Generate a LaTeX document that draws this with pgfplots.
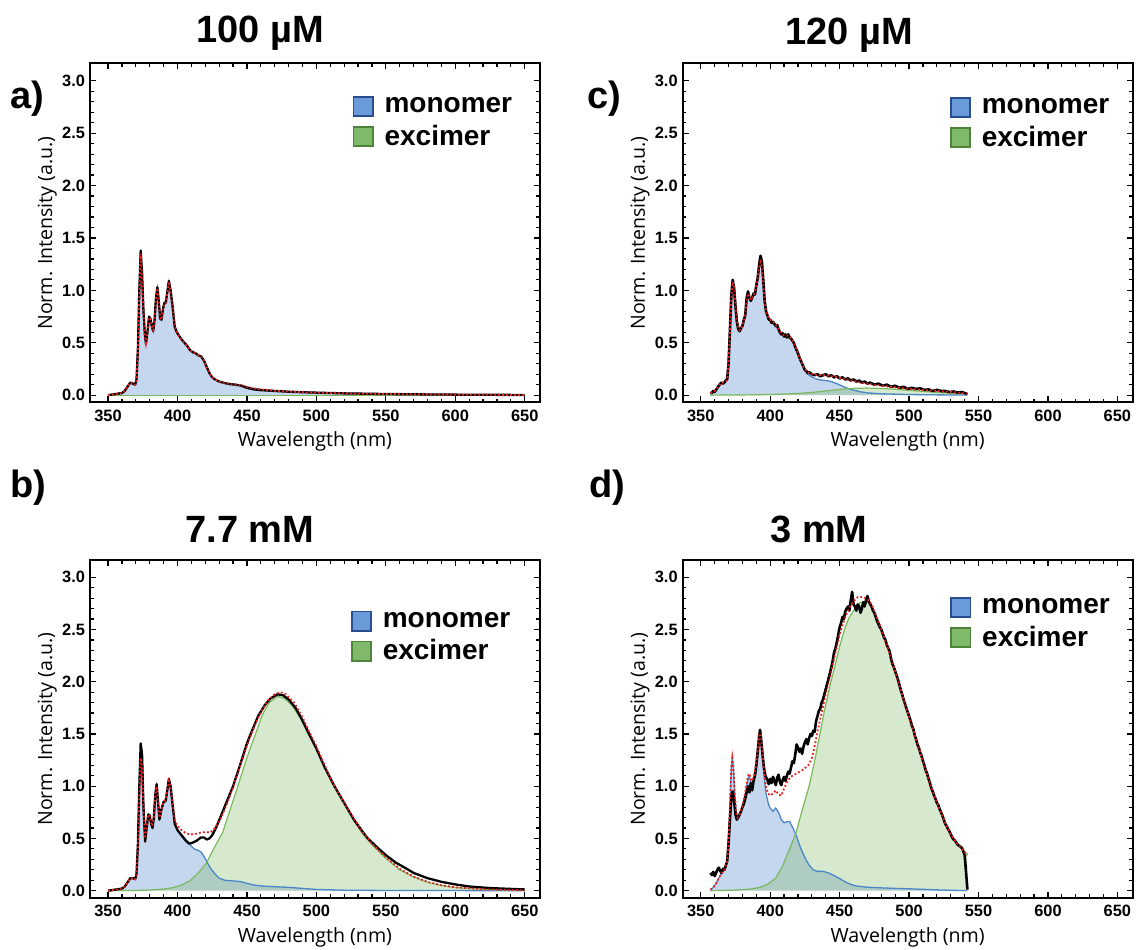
\documentclass[border=0pt]{standalone}
\usepackage{fontspec}
\setmainfont{Liberation Sans}
\newfontfamily\labfont{Open Sans}
\usepackage{pgfplots}
\usepackage{pgfplotstable}
\pgfplotsset{compat=1.18}

\definecolor{monoline}{RGB}{74,134,200}
\definecolor{monofill}{RGB}{90,140,210}
\definecolor{monobox}{RGB}{106,154,216}
\definecolor{monoedge}{RGB}{40,78,145}
\definecolor{exciline}{RGB}{122,184,92}
\definecolor{excifill}{RGB}{120,180,90}
\definecolor{excibox}{RGB}{127,186,106}
\definecolor{exciedge}{RGB}{78,132,58}
\definecolor{fitred}{RGB}{235,30,30}

% ---------- 100 uM ----------
\pgfplotstableread{
x y
350 0.00
355 0.01
360 0.02
362 0.04
364 0.08
366 0.12
368 0.11
369.5 0.10
370.5 0.15
371.5 0.45
372.5 1.00
373.5 1.38
374.5 1.16
375.5 0.80
376.5 0.58
377.3 0.49
378.5 0.62
379.5 0.75
380.5 0.73
381.5 0.66
382.5 0.61
383.5 0.72
384.5 0.93
385.5 1.03
386.5 0.90
387.5 0.73
388.5 0.72
389.5 0.82
390.5 0.88
391.5 0.88
392.5 0.97
393.8 1.09
395 1.00
396.5 0.84
398 0.65
399.5 0.60
401 0.57
403 0.53
405 0.50
407 0.47
409 0.43
411 0.41
413 0.40
415 0.38
417 0.37
419 0.33
421 0.27
423 0.21
425 0.17
427 0.15
430 0.13
434 0.115
438 0.105
442 0.10
446 0.09
450 0.07
455 0.055
460 0.048
470 0.04
480 0.033
490 0.028
500 0.024
520 0.017
550 0.011
580 0.007
610 0.004
650 0.002
}\dataA
\pgfplotstableread{
x y
350 0.00
355 0.01
360 0.02
362 0.04
364 0.08
366 0.12
368 0.11
369.5 0.10
370.5 0.14
371.5 0.40
372.5 0.95
373.5 1.35
374.5 1.15
375.5 0.80
376.5 0.58
377.3 0.50
378.5 0.62
379.5 0.74
380.5 0.73
381.5 0.66
382.5 0.62
383.5 0.72
384.5 0.92
385.5 1.02
386.5 0.90
387.5 0.74
388.5 0.72
389.5 0.82
390.5 0.88
391.5 0.88
392.5 0.96
393.8 1.08
395 1.00
396.5 0.84
398 0.66
399.5 0.60
401 0.57
403 0.53
405 0.50
407 0.47
409 0.43
411 0.41
413 0.40
415 0.38
417 0.37
419 0.33
421 0.27
423 0.21
425 0.17
427 0.15
430 0.13
434 0.115
438 0.105
442 0.10
446 0.095
450 0.08
455 0.065
460 0.055
470 0.042
480 0.034
490 0.029
500 0.024
520 0.017
550 0.011
580 0.007
610 0.004
650 0.002
}\fitA
\pgfplotstableread{
x y
350 0
650 0
}\exciA

% ---------- 7.7 mM ----------
\pgfplotstableread{
x y
350 0.00
355 0.01
360 0.02
362 0.04
364 0.08
366 0.12
368 0.12
369.5 0.11
370.5 0.16
371.5 0.45
372.5 1.00
373.5 1.41
374.5 1.30
375.5 0.80
376.7 0.47
377.8 0.60
379 0.73
380 0.72
381 0.64
382 0.60
383 0.70
384 0.92
385 1.02
386 0.85
387 0.68
388.5 0.78
390 0.85
391.5 0.86
392.5 0.95
393.8 1.07
395 1.00
396.5 0.82
398 0.64
400 0.58
403 0.53
406 0.48
408.5 0.45
411 0.46
414 0.48
417 0.51
419 0.51
421 0.49
423 0.50
425 0.53
428 0.61
432 0.74
436 0.87
440 1.00
445 1.20
450 1.41
453 1.51
458 1.67
463 1.78
467 1.84
472 1.88
476 1.87
480 1.83
485 1.75
490 1.63
494 1.52
500 1.36
506 1.18
513 1.00
520 0.84
527 0.68
533 0.57
537 0.50
545 0.40
550 0.34
557 0.27
565 0.21
570 0.17
580 0.12
590 0.085
600 0.06
610 0.04
625 0.025
650 0.012
}\dataB
\pgfplotstableread{
x y
350 0.00
355 0.01
360 0.02
362 0.04
364 0.08
366 0.12
368 0.12
369.5 0.11
370.5 0.15
371.5 0.40
372.5 0.90
373.5 1.27
374.5 1.18
375.5 0.78
376.7 0.50
377.8 0.62
379 0.73
380 0.72
381 0.65
382 0.62
383 0.72
384 0.92
385 1.00
386 0.85
387 0.70
388.5 0.78
390 0.85
391.5 0.87
392.5 0.95
393.8 1.05
395 1.00
396.5 0.84
398 0.68
400 0.62
403 0.58
406 0.55
409 0.54
412 0.54
415 0.55
418 0.56
421 0.56
424 0.56
427 0.60
430 0.66
435 0.81
440 0.99
445 1.19
450 1.39
455 1.56
460 1.71
465 1.82
470 1.88
474 1.90
478 1.88
484 1.80
490 1.66
496 1.49
500 1.38
506 1.20
513 1.00
520 0.84
527 0.69
533 0.57
540 0.45
550 0.32
560 0.21
570 0.135
580 0.085
590 0.052
600 0.032
620 0.013
650 0.004
}\fitB
\pgfplotstableread{
x y
350 0.00
355 0.01
360 0.02
362 0.04
364 0.08
366 0.12
368 0.12
369.5 0.11
370.5 0.15
371.5 0.40
372.5 0.90
373.5 1.27
374.5 1.18
375.5 0.78
376.7 0.50
377.8 0.62
379 0.73
380 0.72
381 0.65
382 0.62
383 0.72
384 0.92
385 1.00
386 0.85
387 0.70
388.5 0.78
390 0.85
391.5 0.86
392.5 0.94
393.8 1.04
395 0.98
396.5 0.80
398 0.64
400 0.57
403 0.52
406 0.47
409 0.44
412 0.40
415 0.385
417 0.37
419 0.33
421 0.28
424 0.21
427 0.16
430 0.12
434 0.10
438 0.095
442 0.092
446 0.085
450 0.07
455 0.055
460 0.045
470 0.038
480 0.032
490 0.022
500 0.012
520 0.005
550 0.002
650 0.000
}\monoB
\pgfplotstableread{
x y
350 0.000
360 0.001
370 0.002
380 0.006
390 0.015
397 0.030
403 0.055
409 0.095
415 0.170
420.6 0.26
426 0.40
432.6 0.56
437 0.74
442 0.94
447 1.15
452 1.35
457 1.53
461 1.68
466 1.80
472 1.86
477 1.84
482 1.78
488 1.66
494 1.50
500 1.36
506 1.18
513 0.99
520 0.83
527 0.67
533 0.55
540 0.44
550 0.31
560 0.20
570 0.13
580 0.08
590 0.05
600 0.03
620 0.012
650 0.003
}\exciB

% ---------- 120 uM ----------
\pgfplotstableread{
x y
357 0.03
358 0.02
359 0.04
360 0.03
361 0.05
362 0.07
363 0.09
364 0.11
365 0.12
366 0.11
367 0.12
368 0.14
369 0.15
370 0.30
371 0.62
372 0.95
373 1.10
374 1.02
375 0.85
376 0.70
377 0.63
378 0.61
379 0.64
380 0.66
381 0.72
382 0.76
383 0.92
384 0.99
385 0.93
386 0.90
387 0.93
388 0.97
389 0.96
390 1.05
391 1.12
392 1.24
393 1.33
394 1.28
395 1.10
396 0.90
397 0.80
398 0.76
399 0.72
400 0.72
401 0.69
402 0.70
403 0.68
404 0.66
405 0.67
406 0.63
407 0.60
408 0.58
409 0.59
410 0.56
411 0.58
412 0.55
413 0.58
414 0.55
415 0.54
416 0.52
417 0.50
418 0.46
419 0.43
420 0.40
421 0.36
422 0.33
423 0.30
424 0.27
425 0.24
426 0.23
427 0.21
428 0.22
430 0.20
432 0.19
434 0.20
436 0.18
438 0.19
440 0.20
442 0.18
444 0.19
446 0.17
448 0.18
450 0.16
452 0.17
454 0.15
456 0.16
458 0.14
460 0.15
462 0.13
464 0.14
466 0.12
468 0.13
470 0.11
472 0.12
475 0.10
478 0.11
481 0.09
484 0.10
487 0.08
490 0.09
493 0.07
496 0.08
499 0.06
502 0.07
505 0.06
508 0.065
511 0.05
514 0.055
517 0.04
520 0.05
523 0.04
526 0.04
529 0.03
532 0.035
535 0.025
538 0.03
540 0.02
542 0.01
}\dataC
\pgfplotstableread{
x y
357 0.02
360 0.04
362 0.07
364 0.11
366 0.12
368 0.13
369 0.15
370 0.30
371 0.60
372 0.92
373 1.08
374 1.04
375 0.87
376 0.72
377 0.65
378 0.62
379 0.63
380 0.66
381 0.71
382 0.77
383 0.90
384 0.97
385 0.94
386 0.91
387 0.93
388 0.96
389 0.98
390 1.05
391 1.13
392 1.22
393 1.27
394 1.23
395 1.08
396 0.90
397 0.80
398 0.76
400 0.72
402 0.70
404 0.67
406 0.63
408 0.59
410 0.57
412 0.57
414 0.56
416 0.53
418 0.47
420 0.40
422 0.33
424 0.27
426 0.23
428 0.21
432 0.195
436 0.19
440 0.19
445 0.18
450 0.165
455 0.15
460 0.135
465 0.12
470 0.11
480 0.09
490 0.075
500 0.06
510 0.05
520 0.04
530 0.03
542 0.015
}\fitC
\pgfplotstableread{
x y
357 0.02
360 0.04
362 0.07
364 0.11
366 0.12
368 0.13
369 0.15
370 0.30
371 0.60
372 0.92
373 1.08
374 1.04
375 0.87
376 0.72
377 0.65
378 0.62
379 0.63
380 0.66
381 0.71
382 0.77
383 0.90
384 0.97
385 0.94
386 0.91
387 0.93
388 0.96
389 0.98
390 1.05
391 1.13
392 1.21
393 1.26
394 1.22
395 1.07
396 0.89
397 0.79
398 0.75
400 0.71
402 0.69
404 0.66
406 0.62
408 0.58
410 0.56
412 0.56
414 0.55
416 0.52
418 0.46
420 0.39
422 0.32
424 0.26
426 0.22
428 0.19
432 0.16
436 0.145
440 0.14
444 0.13
448 0.11
452 0.085
456 0.065
460 0.048
465 0.032
470 0.022
480 0.013
500 0.006
520 0.003
542 0.001
}\monoC
\pgfplotstableread{
x y
357 0.000
380 0.002
400 0.006
420 0.016
430 0.026
440 0.040
450 0.055
460 0.065
470 0.068
480 0.064
490 0.056
500 0.046
510 0.036
520 0.027
530 0.019
542 0.012
}\exciC

% ---------- 3 mM ----------
\pgfplotstableread{
x y
357 0.17
358 0.15
359 0.18
360 0.14
361 0.17
362 0.20
363 0.22
364 0.19
365 0.17
366 0.21
367 0.20
368 0.24
369 0.28
370 0.45
371 0.68
372 0.90
373 0.95
374 0.86
375 0.73
376 0.68
377 0.70
378 0.73
379 0.76
380 0.80
381 0.83
382 0.88
383 0.94
384 1.00
385 0.94
386 1.03
387 0.96
388 1.05
389 1.10
390 1.20
391 1.33
392 1.47
392.7 1.54
393.5 1.44
394.5 1.30
395.5 1.18
396.5 1.10
398 1.06
399 1.02
400 1.07
401 1.03
402 1.09
403 1.05
404 1.01
405 1.08
406 1.11
407 1.04
408 1.01
409 1.06
410 1.09
411 1.05
412 1.10
413 1.14
414 1.12
415 1.18
416 1.24
417 1.22
418 1.30
419 1.40
420 1.37
421 1.33
422 1.36
423 1.31
424 1.38
425 1.42
426 1.45
427 1.40
428 1.46
429 1.50
430 1.48
431 1.53
432 1.52
433 1.62
434 1.67
435 1.72
436 1.74
437 1.80
438 1.83
439 1.88
440 1.93
441 1.98
442 2.03
443 2.08
444 2.14
445 2.20
446 2.28
447 2.32
448 2.38
449 2.45
450 2.52
451 2.56
452 2.62
453 2.60
454 2.67
455 2.70
456 2.72
457 2.68
458 2.78
459 2.86
460 2.74
461 2.72
462 2.68
463 2.74
464 2.72
465 2.66
466 2.70
467 2.76
468 2.72
469 2.78
470 2.82
471 2.77
472 2.74
473 2.72
474 2.68
475 2.66
476 2.62
477 2.58
478 2.55
479 2.52
480 2.50
481 2.46
482 2.42
483 2.40
484 2.35
485 2.32
486 2.29
487 2.22
488 2.17
489 2.14
490 2.10
491 2.06
492 2.02
493 1.97
494 1.92
495 1.88
496 1.83
497 1.79
498 1.75
499 1.71
500 1.67
501 1.63
502 1.58
503 1.55
504 1.49
505 1.45
506 1.40
507 1.37
508 1.32
509 1.29
510 1.24
511 1.20
512 1.15
513 1.12
514 1.07
515 1.03
516 0.98
517 0.95
518 0.91
519 0.88
520 0.84
521 0.82
522 0.78
523 0.75
524 0.72
525 0.68
526 0.64
527 0.62
528 0.59
529 0.57
530 0.54
531 0.51
532 0.49
533 0.48
534 0.46
535 0.44
536 0.43
537 0.42
538 0.41
539 0.38
540 0.34
541 0.18
542 0.01
}\dataD
\pgfplotstableread{
x y
357 0.01
359 0.03
361 0.07
363 0.12
365 0.17
367 0.20
369 0.28
370 0.45
371 0.80
372 1.18
372.7 1.27
373.5 1.18
374.5 0.92
375.5 0.76
376.5 0.70
378 0.73
380 0.81
382 0.94
383.5 1.06
384.5 1.12
385.5 1.10
386.5 1.05
388 1.08
389.5 1.18
391 1.33
392.3 1.50
393.2 1.50
394.2 1.35
395.5 1.15
397 0.99
398.5 0.93
400 0.91
402 0.93
404 0.96
406 0.92
408 0.91
410 0.98
413 1.06
416 1.10
420 1.13
424 1.16
428 1.21
430 1.27
432 1.38
434 1.52
436 1.64
438 1.76
440 1.88
443 2.04
446 2.22
450 2.45
454 2.62
457 2.71
460 2.77
463 2.81
467 2.81
470 2.79
473 2.74
476 2.64
479 2.54
482 2.43
486 2.27
490 2.10
494 1.92
498 1.75
502 1.58
506 1.41
510 1.24
514 1.07
518 0.92
522 0.78
526 0.65
530 0.54
534 0.46
538 0.40
540 0.37
542 0.34
}\fitD
\pgfplotstableread{
x y
357 0.01
359 0.03
361 0.07
363 0.12
365 0.17
367 0.20
369 0.28
370 0.45
371 0.80
372 1.18
372.7 1.27
373.5 1.18
374.5 0.92
375.5 0.76
376.5 0.70
378 0.72
380 0.80
382 0.92
383.5 1.03
384.5 1.09
385.5 1.07
386.5 1.02
388 1.05
389.5 1.15
391 1.30
392.3 1.47
393.2 1.47
394.2 1.32
395.5 1.11
397 0.93
398.5 0.84
400 0.79
402 0.76
404 0.79
406 0.75
408 0.68
410 0.65
412 0.66
414 0.66
416 0.61
418.7 0.53
421 0.44
423.5 0.36
426 0.29
428.3 0.24
431 0.20
434 0.185
438 0.185
442 0.17
446 0.145
450 0.115
454 0.085
458 0.06
462 0.045
470 0.033
480 0.027
490 0.022
500 0.018
510 0.013
520 0.008
530 0.004
542 0.001
}\monoD
\pgfplotstableread{
x y
357 0.000
365 0.002
375 0.006
385 0.015
392 0.03
398 0.06
404 0.12
409 0.24
414 0.40
418.7 0.56
423 0.77
428 1.00
432 1.24
435.5 1.48
439 1.72
443 1.96
447 2.17
450 2.34
454 2.52
457 2.62
461 2.70
465 2.76
469 2.77
472 2.74
475 2.66
478 2.58
482 2.44
486 2.27
490 2.10
494 1.92
498 1.75
502 1.58
506 1.41
510 1.24
514 1.07
518 0.92
522 0.78
526 0.65
530 0.54
534 0.46
538 0.40
540 0.37
542 0.35
}\exciD

\pgfplotsset{
  spec/.style={
    scale only axis, width=225pt,
    xmin=337, xmax=661, ymin=-0.07, ymax=3.165,
    xtick={350,400,...,650}, minor x tick num=4,
    ytick={0,0.5,1,1.5,2,2.5,3}, minor y tick num=4,
    tick align=inside, tick pos=both,
    major tick length=3pt, minor tick length=1.8pt,
    tick style={black, line width=0.6pt},
    axis line style={line width=1pt},
    tick label style={font=\bfseries\fontsize{8.2}{9}\selectfont},
    /pgf/number format/assume math mode=true,
    yticklabel style={/pgf/number format/fixed, /pgf/number format/fixed zerofill, /pgf/number format/precision=1, xshift=1pt},
    xlabel={Wavelength (nm)}, ylabel={Norm. Intensity (a.u.)},
    label style={font=\labfont\fontsize{9.8}{10}\selectfont},
    ylabel style={at={(axis description cs:-0.095,0.5)}, anchor=center},
    xlabel style={at={(axis description cs:0.5,-0.115)}, anchor=center},
    legend style={draw=none, fill=none, anchor=north west, inner sep=0pt,
      font=\bfseries\fontsize{14}{14}\selectfont, row sep=4pt, column sep=5.5pt,
      nodes={inner sep=0pt}},
    legend cell align=left,
  },
  mfill/.style={draw=none, fill=monofill, fill opacity=0.35, forget plot},
  efill/.style={draw=none, fill=excifill, fill opacity=0.30, forget plot},
  mline/.style={monoline, line width=0.65pt, forget plot},
  eline/.style={exciline, line width=0.6pt, forget plot},
  dline/.style={black, line width=1.15pt, line join=round, forget plot},
  fline/.style={fitred, line width=0.9pt, dash pattern=on 0.9pt off 1.1pt, forget plot},
  monoleg/.style={legend image code/.code={
      \draw[fill=monobox, draw=monoedge, line width=0.8pt] (0pt,-4.8pt) rectangle (9.6pt,4.8pt);}},
  excileg/.style={legend image code/.code={
      \draw[fill=excibox, draw=exciedge, line width=0.8pt] (0pt,-4.8pt) rectangle (9.6pt,4.8pt);}},
}

\newcommand{\legendpair}{%
  \addlegendimage{monoleg}\addlegendentry{monomer}
  \addlegendimage{excileg}\addlegendentry{excimer}}

\begin{document}
\begin{tikzpicture}
\path[use as bounding box] (0pt,0pt) rectangle (568pt,474.5pt);

% a) 100 uM
\begin{axis}[spec, height=169.5pt, at={(45pt,273.25pt)}, anchor=south west,
  legend style={at={(axis description cs:0.583,0.905)}}]
\legendpair
\addplot[mfill] table {\fitA} \closedcycle;
\addplot[efill] table {\exciA} \closedcycle;
\addplot[mline] table {\fitA};
\addplot[eline] table {\exciA};
\addplot[dline] table {\dataA};
\addplot[fline] table {\fitA};
\end{axis}

% c) 120 uM
\begin{axis}[spec, height=169.5pt, at={(341.35pt,273.25pt)}, anchor=south west,
  legend style={at={(axis description cs:0.593,0.902)}}]
\legendpair
\addplot[mfill] table {\monoC} \closedcycle;
\addplot[efill] table {\exciC} \closedcycle;
\addplot[mline] table {\monoC};
\addplot[eline] table {\exciC};
\addplot[dline, line width=1.3pt] table {\dataC};
\addplot[fline] table {\fitC};
\end{axis}

% b) 7.7 mM
\begin{axis}[spec, height=169pt, at={(45pt,25.5pt)}, anchor=south west,
  legend style={at={(axis description cs:0.579,0.851)}},
  xlabel style={at={(axis description cs:0.5,-0.118)}}]
\legendpair
\addplot[mfill] table {\monoB} \closedcycle;
\addplot[efill] table {\exciB} \closedcycle;
\addplot[mline] table {\monoB};
\addplot[eline] table {\exciB};
\addplot[dline] table {\dataB};
\addplot[fline] table {\fitB};
\end{axis}

% d) 3 mM
\begin{axis}[spec, height=169pt, at={(341.35pt,25.5pt)}, anchor=south west,
  legend style={at={(axis description cs:0.594,0.891)}},
  xlabel style={at={(axis description cs:0.5,-0.118)}}]
\legendpair
\addplot[mfill] table {\monoD} \closedcycle;
\addplot[efill] table {\exciD} \closedcycle;
\addplot[mline] table {\monoD};
\addplot[eline] table {\exciD};
\addplot[dline, line width=1.3pt] table {\dataD};
\addplot[fline] table {\fitD};
\end{axis}

% titles and panel letters
\begin{scope}[every node/.style={font=\bfseries\fontsize{19}{19}\selectfont, inner sep=0pt}]
\node[anchor=base] at (130pt,453pt) {100 µM};
\node[anchor=base] at (424.5pt,452pt) {120 µM};
\node[anchor=base] at (125pt,203pt) {7.7 mM};
\node[anchor=base] at (409.5pt,203pt) {3 mM};
\node[anchor=base west] at (5pt,420pt) {a)};
\node[anchor=base west] at (293.5pt,420pt) {c)};
\node[anchor=base west] at (5pt,225.5pt) {b)};
\node[anchor=base west] at (294.5pt,225.5pt) {d)};
\end{scope}
\end{tikzpicture}
\end{document}
